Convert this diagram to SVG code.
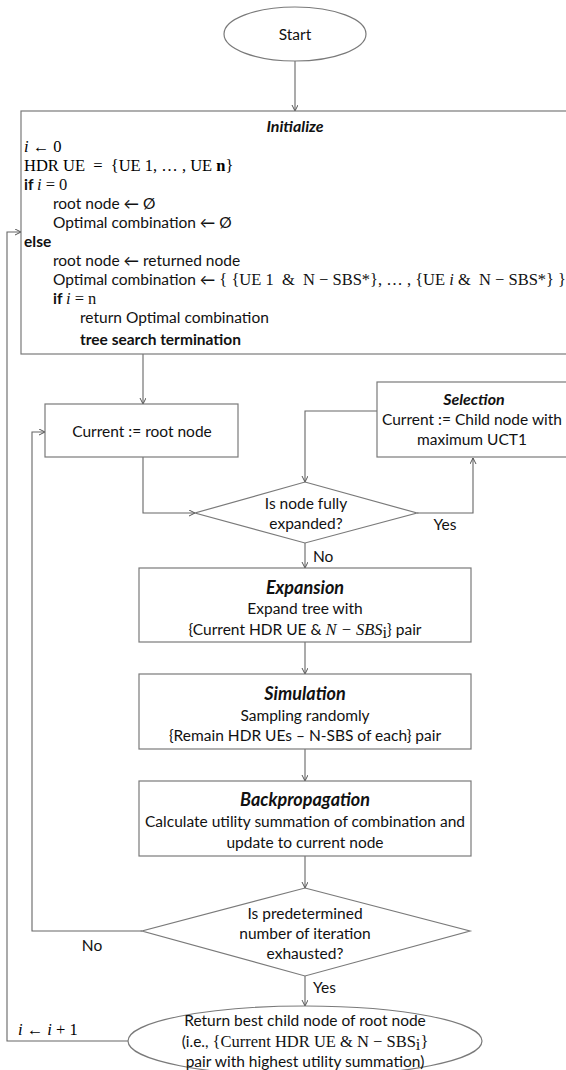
<svg xmlns="http://www.w3.org/2000/svg" width="566" height="1070" viewBox="0 0 566 1070">
<defs>
<marker id="arr" markerWidth="8" markerHeight="8" refX="6" refY="3" orient="auto" markerUnits="userSpaceOnUse">
<path d="M0,0 L6,3 L0,6" fill="none" stroke="#555" stroke-width="1"/>
</marker>
<style>
.box{fill:#fff;stroke:#7a7a7a;stroke-width:1.2}
.con{fill:none;stroke:#666;stroke-width:1.1;marker-end:url(#arr)}
.t{font-family:Lato,"Liberation Sans",sans-serif;font-size:15.5px;fill:#111}
.c{text-anchor:middle}
.h{font-family:Lato,"Liberation Sans",sans-serif;font-size:18px;font-weight:bold;font-style:italic;fill:#111}
.hs{font-family:Lato,"Liberation Sans",sans-serif;font-size:16px;font-weight:bold;font-style:italic;fill:#111}
.m{font-family:"Liberation Serif","DejaVu Serif",serif;font-size:16.5px}
.i{font-style:italic}
.b{font-weight:bold}
</style>
</defs>
<rect width="566" height="1070" fill="#fff"/>

<g id="connectors">
<path class="con" d="M295,61 L295,111"/>
<path class="con" d="M143,354 L143,404"/>
<path class="con" d="M143,457 L143,513 L195,513"/>
<path class="con" d="M417,513 L473,513 L473,458"/>
<path class="con" d="M377,411 L305,411 L305,482"/>
<path class="con" d="M305,543 L305,568"/>
<path class="con" d="M305,642 L305,674"/>
<path class="con" d="M305,749 L305,781"/>
<path class="con" d="M305,856 L305,888"/>
<path class="con" d="M305,976 L305,1006"/>
<path class="con" d="M142,931 L32,931 L32,432 L45,432"/>
<path class="con" d="M128,1041 L7,1041 L7,232 L21,232"/>
<text class="t" x="445" y="530" text-anchor="middle">Yes</text>
<text class="t" x="313" y="562">No</text>
<text class="t" x="92" y="951" text-anchor="middle">No</text>
<text class="t" x="313" y="993">Yes</text>
<text class="m" x="18" y="1035"><tspan class="i">i</tspan> ← <tspan class="i">i</tspan> + 1</text>
</g>

<g id="start">
<ellipse class="box" cx="295" cy="34" rx="71" ry="27"/>
<text class="t c" x="295" y="40">Start</text>
</g>

<g id="initialize">
<rect class="box" x="21" y="111" width="560" height="243"/>
<text class="hs c" x="295" y="132">Initialize</text>
<text class="m" x="24" y="152"><tspan class="i">i</tspan> ← 0</text>
<text class="m" x="24" y="171">HDR UE &#160;= &#160;{UE 1, … , UE <tspan class="b">n</tspan>}</text>
<text class="t" x="24" y="190"><tspan class="b">if </tspan><tspan class="m"><tspan class="i">i</tspan> = 0</tspan></text>
<text class="t" x="53" y="209">root node ← Ø</text>
<text class="t" x="53" y="228">Optimal combination ← Ø</text>
<text class="t b" x="24" y="247">else</text>
<text class="t" x="53" y="266">root node ← returned node</text>
<text class="t" x="53" y="285">Optimal combination ← <tspan class="m">{ {UE 1 &#160;&amp; &#160;N − SBS*}, … , {UE <tspan class="i">i</tspan> &amp; &#160;N − SBS*} }</tspan></text>
<text class="t" x="53" y="304"><tspan class="b">if </tspan><tspan class="m"><tspan class="i">i</tspan> = n</tspan></text>
<text class="t" x="80" y="323">return Optimal combination</text>
<text class="t b" x="80" y="345">tree search termination</text>
</g>

<g id="current">
<rect class="box" x="45" y="404" width="193" height="53"/>
<text class="t c" x="142" y="437">Current := root node</text>
</g>

<g id="selection">
<rect class="box" x="377" y="382" width="200" height="75"/>
<text class="hs c" x="474" y="405">Selection</text>
<text class="t c" x="472" y="425">Current := Child node with</text>
<text class="t c" x="472" y="445">maximum UCT1</text>
</g>

<g id="expanded">
<polygon class="box" points="305,482 417,513 305,543 195,513"/>
<text class="t c" x="306" y="509">Is node fully</text>
<text class="t c" x="306" y="529">expanded?</text>
</g>

<g id="expansion">
<rect class="box" x="139" y="568" width="332" height="74"/>
<text class="h c" x="305" y="594">Expansion</text>
<text class="t c" x="305" y="614">Expand tree with</text>
<text class="t c" x="305" y="635">{Current HDR UE &amp; <tspan class="m i">N − SBS</tspan><tspan class="m" font-size="11" dy="3">i</tspan><tspan dy="-3">} pair</tspan></text>
</g>

<g id="simulation">
<rect class="box" x="139" y="674" width="332" height="75"/>
<text class="h c" x="305" y="700">Simulation</text>
<text class="t c" x="305" y="721">Sampling randomly</text>
<text class="t c" x="305" y="741">{Remain HDR UEs – N-SBS of each} pair</text>
</g>

<g id="backpropagation">
<rect class="box" x="139" y="781" width="332" height="75"/>
<text class="h c" x="305" y="806">Backpropagation</text>
<text class="t c" x="305" y="827">Calculate utility summation of combination and</text>
<text class="t c" x="305" y="848">update to current node</text>
</g>

<g id="iteration">
<polygon class="box" points="305,888 470,931 305,976 142,931"/>
<text class="t c" x="305" y="919">Is predetermined</text>
<text class="t c" x="305" y="939">number of iteration</text>
<text class="t c" x="305" y="959">exhausted?</text>
</g>

<g id="return">
<ellipse class="box" cx="305" cy="1041" rx="177" ry="35"/>
<text class="t c" x="305" y="1026">Return best child node of root node</text>
<text class="t c" x="305" y="1047">(i.e., <tspan class="m">{Current HDR UE &amp; N − SBS</tspan><tspan class="m" font-size="11" dy="3">i</tspan><tspan class="m" dy="-3">}</tspan></text>
<text class="t c" x="305" y="1067">pair with highest utility summation)</text>
</g>
</svg>
